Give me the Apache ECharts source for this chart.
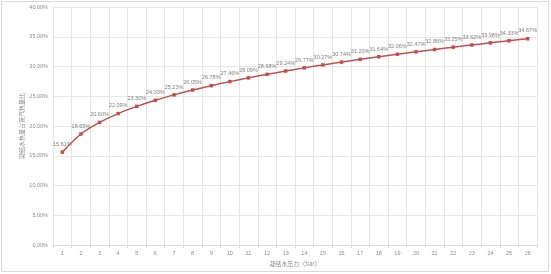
<!DOCTYPE html>
<html><head><meta charset="utf-8">
<script src="https://cdn.jsdelivr.net/npm/echarts@6/dist/echarts.min.js"></script>
<style>html,body{margin:0;padding:0;background:#fff}#c{width:551px;height:274px}</style>
</head><body><div id="c"></div>
<script>
const categories = ['1','2','3','4','5','6','7','8','9','10','11','12','13','14','15','16','17','18','19','20','21','22','23','24','25','26'];
const values = [15.61,18.65,20.60,22.09,23.30,24.33,25.23,26.05,26.78,27.46,28.09,28.68,29.24,29.77,30.27,30.74,31.20,31.64,32.06,32.47,32.86,33.25,33.62,33.98,34.33,34.67];
const yTicks = [0,5,10,15,20,25,30,35,40];
const xTitle = '凝结水压力（bar）';
const yTitle = '凝结水热量占蒸汽热量比';
const chart = echarts.init(document.getElementById('c'));
chart.setOption({
  animation:false,
  graphic:[{type:'rect',shape:{x:1.5,y:1.5,width:547,height:270},style:{fill:'none',stroke:'#d9d9d9',lineWidth:1}}],
  grid:{left:53,right:14,top:7,bottom:29,containLabel:false},
  xAxis:{type:'category',data:categories,boundaryGap:true,
    name:xTitle,nameLocation:'middle',nameGap:16,nameMoveOverlap:false,nameTextStyle:{color:'#8c8c8c',fontSize:6,fontFamily:'Noto Sans CJK SC'},
    axisLine:{lineStyle:{color:'#d9d9d9'}},axisTick:{show:true,alignWithLabel:false,length:3,lineStyle:{color:'#d9d9d9'}},
    axisLabel:{color:'#8c8c8c',fontSize:5.5,margin:5,interval:0},
    splitLine:{show:true,interval:0,lineStyle:{color:'#e6e6e6'}}},
  yAxis:{type:'value',min:0,max:40,interval:5,
    name:yTitle,nameLocation:'middle',nameGap:28,nameMoveOverlap:false,nameRotate:90,nameTextStyle:{color:'#8c8c8c',fontSize:6,fontFamily:'Noto Sans CJK SC'},
    axisLine:{show:false},axisTick:{show:false},
    axisLabel:{color:'#8c8c8c',fontSize:5.5,margin:5,formatter:v=>v.toFixed(2)+'%'},
    splitLine:{lineStyle:{color:'#e6e6e6'}}},
  series:[{type:'line',data:values,smooth:0.3,symbol:'rect',symbolSize:3.5,
    lineStyle:{color:'#c0504d',width:1.5},itemStyle:{color:'#c0504d'},
    label:{show:true,position:'top',distance:3,color:'#7f7f7f',fontSize:5.5,formatter:p=>p.value.toFixed(2)+'%'}}]
});
</script></body></html>
